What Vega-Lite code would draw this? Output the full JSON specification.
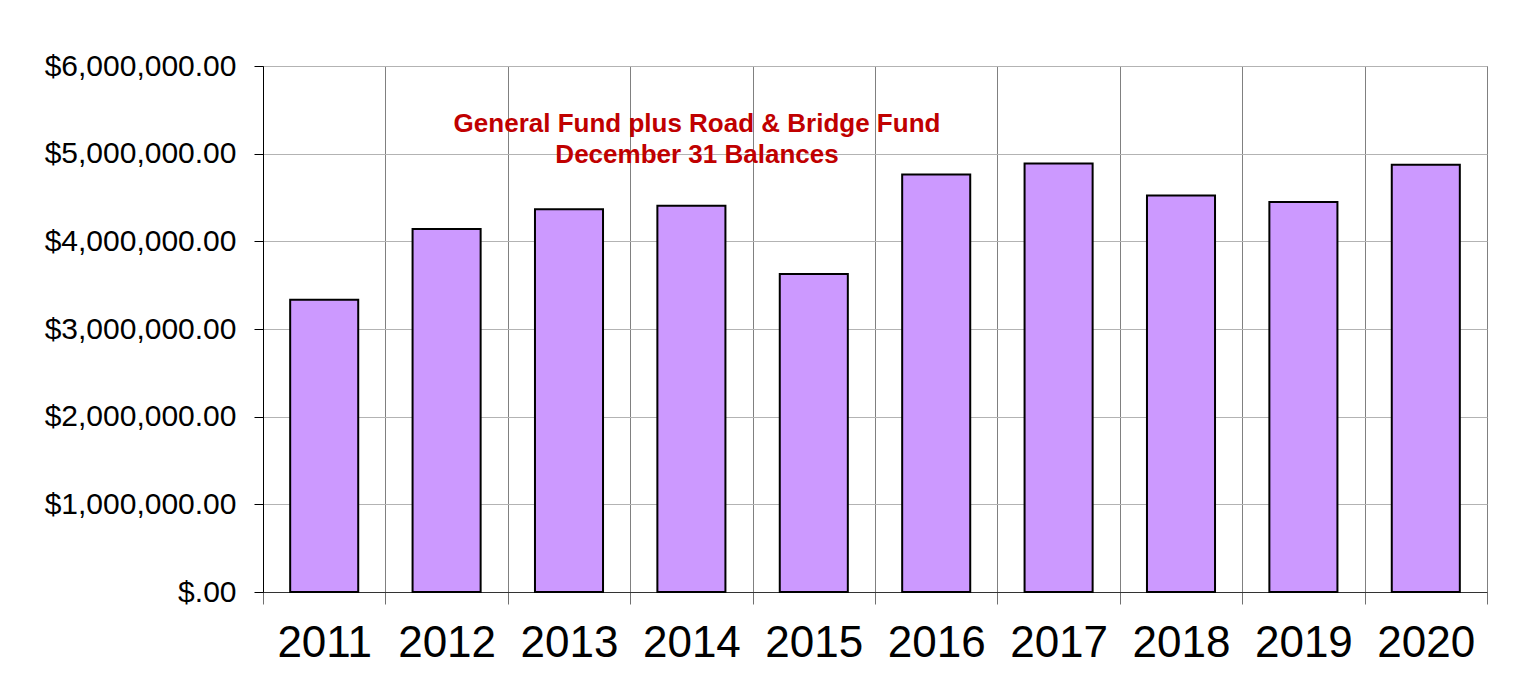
{
  "$schema": "https://vega.github.io/schema/vega-lite/v6.json",
  "width": 1224,
  "height": 526,
  "autosize": {"type": "none"},
  "padding": {"left": 263, "top": 66, "right": 28, "bottom": 90},
  "background": "white",
  "title": {
    "text": ["General Fund plus Road & Bridge Fund", "December 31 Balances"],
    "anchor": "middle",
    "frame": "group",
    "orient": "top",
    "baseline": "top",
    "offset": 0,
    "dx": -178,
    "dy": 117,
    "font": "Liberation Sans",
    "fontSize": 26,
    "fontWeight": "bold",
    "color": "#c00000",
    "lineHeight": 31
  },
  "data": {
    "values": [
      {"year": "2011", "balance": 3334000},
      {"year": "2012", "balance": 4141000},
      {"year": "2013", "balance": 4365000},
      {"year": "2014", "balance": 4407000},
      {"year": "2015", "balance": 3627000},
      {"year": "2016", "balance": 4761000},
      {"year": "2017", "balance": 4887000},
      {"year": "2018", "balance": 4522000},
      {"year": "2019", "balance": 4449000},
      {"year": "2020", "balance": 4875000}
    ]
  },
  "mark": {"type": "bar", "fill": "#cc99ff", "stroke": "#000000", "strokeWidth": 2, "width": {"band": 0.556}},
  "encoding": {
    "x": {
      "field": "year",
      "type": "nominal",
      "scale": {"paddingInner": 0, "paddingOuter": 0},
      "axis": {
        "title": null,
        "labelAngle": 0,
        "tickBand": "extent",
        "grid": true,
        "gridColor": "#808080",
        "gridWidth": 1,
        "ticks": true,
        "tickSize": 12,
        "tickColor": "#707070",
        "domainColor": "#333333",
        "labelFont": "Liberation Sans",
        "labelFontSize": 44,
        "labelColor": "#000000",
        "labelPadding": 17
      }
    },
    "y": {
      "field": "balance",
      "type": "quantitative",
      "scale": {"domain": [0, 6000000], "nice": false},
      "axis": {
        "title": null,
        "values": [0, 1000000, 2000000, 3000000, 4000000, 5000000, 6000000],
        "labelExpr": "datum.value == 0 ? '$.00' : format(datum.value, '$,.2f')",
        "labelLimit": 0,
        "grid": true,
        "gridColor": "#b3b3b3",
        "gridWidth": 1,
        "tickSize": 9,
        "tickColor": "#000000",
        "domainColor": "#000000",
        "labelFont": "Liberation Sans",
        "labelFontSize": 30,
        "labelColor": "#000000",
        "labelPadding": 18
      }
    }
  },
  "config": {
    "view": {"stroke": "#808080", "strokeWidth": 1}
  }
}
